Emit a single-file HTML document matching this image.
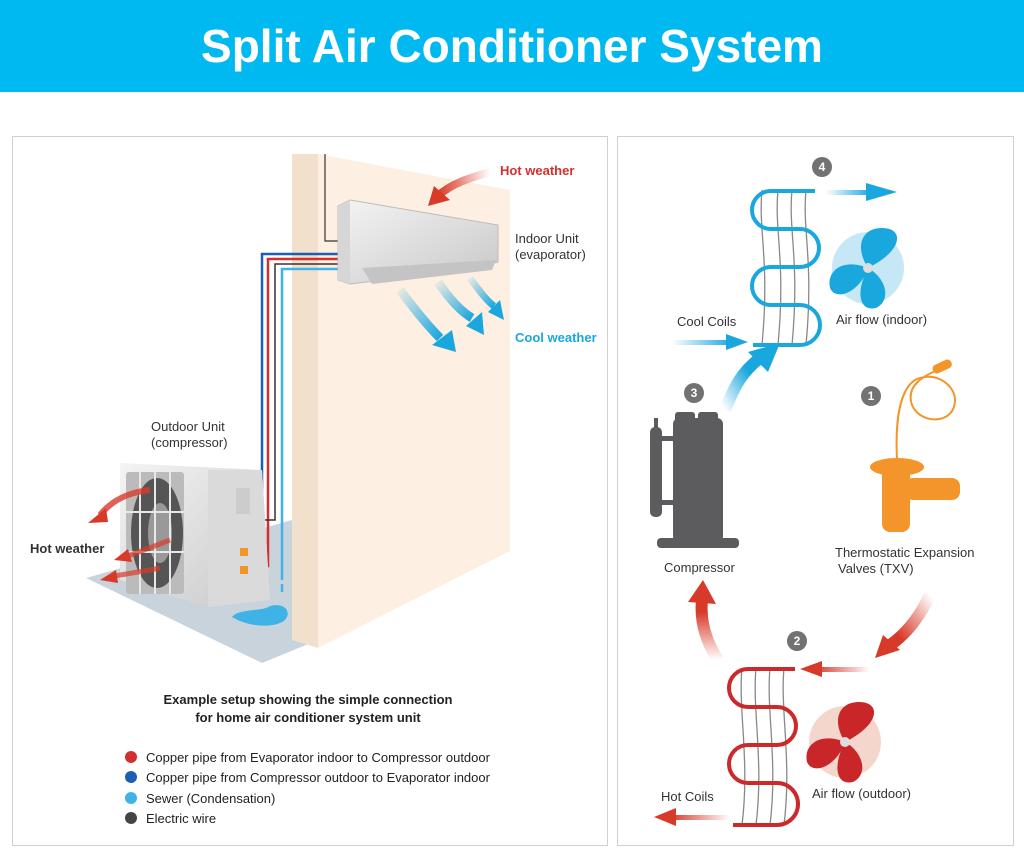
<!DOCTYPE html>
<html><head><meta charset="utf-8"><style>
html,body{margin:0;padding:0;background:#fff;}
body{width:1024px;height:859px;position:relative;overflow:hidden;font-family:"Liberation Sans",Arial,sans-serif;}
</style></head><body>
<svg width="1024" height="859" viewBox="0 0 1024 859" xmlns="http://www.w3.org/2000/svg" font-family="Liberation Sans, Arial, sans-serif">
<defs>
<linearGradient id="rg" x1="0" y1="0" x2="1" y2="0"><stop offset="0" stop-color="#d83a2a"/><stop offset="1" stop-color="#d83a2a" stop-opacity="0"/></linearGradient>
<linearGradient id="rgL" x1="1" y1="0" x2="0" y2="0"><stop offset="0" stop-color="#d83a2a" stop-opacity="0"/><stop offset="1" stop-color="#d83a2a"/></linearGradient>
<linearGradient id="bg" x1="0" y1="0" x2="1" y2="0"><stop offset="0" stop-color="#1aa7de" stop-opacity="0"/><stop offset="1" stop-color="#1aa7de"/></linearGradient>
<linearGradient id="bgV" x1="0" y1="1" x2="1" y2="0"><stop offset="0" stop-color="#1aa7de" stop-opacity="0"/><stop offset="0.7" stop-color="#1aa7de"/></linearGradient>
<linearGradient id="rgV" x1="0" y1="1" x2="0" y2="0"><stop offset="0" stop-color="#d83a2a" stop-opacity="0"/><stop offset="0.8" stop-color="#d83a2a"/></linearGradient>
<linearGradient id="rgD" x1="1" y1="0" x2="0" y2="1"><stop offset="0" stop-color="#d83a2a" stop-opacity="0"/><stop offset="0.8" stop-color="#d83a2a"/></linearGradient>
<linearGradient id="unit" x1="0" y1="0" x2="1" y2="1"><stop offset="0" stop-color="#f4f4f4"/><stop offset="1" stop-color="#c8c8c8"/></linearGradient>
<linearGradient id="cw" x1="0" y1="0" x2="1" y2="1"><stop offset="0" stop-color="#1aa7de" stop-opacity="0.1"/><stop offset="1" stop-color="#1aa7de"/></linearGradient>
</defs>
<rect x="0" y="0" width="1024" height="92" fill="#00b9f0"/>
<text x="512" y="62" text-anchor="middle" font-size="46" font-weight="bold" fill="#fff">Split Air Conditioner System</text>

<rect x="12.5" y="136.5" width="595" height="709" fill="#fff" stroke="#d0d0d0"/>
<rect x="617.5" y="136.5" width="396" height="709" fill="#fff" stroke="#d0d0d0"/>

<polygon points="86,578 292,520 318,640 262,663" fill="#c9d3dc"/>
<polygon points="292,154 318,154 318,648 292,640" fill="#f1e0cc"/>
<polygon points="318,154 510,190 510,551 318,648" fill="#fdf0e2"/>
<path d="M325,154 V241 H338" stroke="#333" fill="none" stroke-width="1.2"/>
<path d="M232,617 C240,608 262,612 270,606 C285,602 292,612 285,620 C276,628 250,628 232,617Z" fill="#3fb3e6"/>
<path d="M338,254 H262 V545 H250" stroke="#1b5fb3" stroke-width="2.5" fill="none"/>
<path d="M338,259 H268 V566 H250" stroke="#d32f2f" stroke-width="2.5" fill="none"/>
<path d="M338,264 H275 V520 H245" stroke="#333" stroke-width="1.5" fill="none"/>
<path d="M338,269 H282 V580" stroke="#3fb3e6" stroke-width="2.5" fill="none"/>
<line x1="282" y1="584" x2="282" y2="592" stroke="#3fb3e6" stroke-width="2.5"/>
<polygon points="120,463 262,470 270,600 208,607 120,580" fill="url(#unit)"/>
<polygon points="208,470 262,470 270,600 208,607" fill="#dadada"/>
<rect x="126" y="472" width="58" height="122" fill="#bbb" rx="3"/>
<ellipse cx="157" cy="533" rx="26" ry="55" fill="#555"/>
<ellipse cx="160" cy="533" rx="12" ry="30" fill="#999"/>
<g stroke="#e8e8e8" stroke-width="2"><line x1="140" y1="472" x2="140" y2="594"/><line x1="155" y1="472" x2="155" y2="594"/><line x1="170" y1="472" x2="170" y2="594"/><line x1="126" y1="512" x2="184" y2="512"/><line x1="126" y1="552" x2="184" y2="552"/></g>
<rect x="236" y="488" width="14" height="26" fill="#ccc"/>
<rect x="240" y="548" width="8" height="8" fill="#f3952a"/><rect x="240" y="566" width="8" height="8" fill="#f3952a"/>
<path d="M150,490 C130,492 112,500 100,515" stroke="#d83a2a" stroke-width="6" fill="none" opacity="0.8"/>
<polygon points="88,523 106,508 108,522" fill="#d83a2a"/>
<path d="M170,540 C150,548 138,552 128,556" stroke="#d83a2a" stroke-width="5" fill="none" opacity="0.7"/>
<polygon points="114,560 128,549 132,562" fill="#d83a2a"/>
<path d="M160,568 C140,572 125,574 115,576" stroke="#d83a2a" stroke-width="5" fill="none" opacity="0.7"/>
<polygon points="100,580 116,570 118,583" fill="#d83a2a"/>
<polygon points="338,206 350,200 498,225 498,262 470,270 350,284 338,280" fill="url(#unit)" stroke="#bbb"/>
<polygon points="338,206 350,200 350,284 338,280" fill="#d6d6d6"/>
<polygon points="362,268 496,260 492,270 372,284" fill="#c4c4c4"/>
<path d="M490,172 C470,178 452,183 438,196" stroke="url(#rgL)" stroke-width="8" fill="none"/>
<polygon points="428,206 434,186 450,200" fill="#d83a2a"/>
<text x="500" y="175" font-size="13" font-weight="bold" fill="#d32f2f">Hot weather</text>
<path d="M400,290 C415,310 430,328 440,338" stroke="url(#cw)" stroke-width="9" fill="none"/>
<polygon points="432,345 452,330 456,352" fill="#1aa7de"/>
<path d="M438,282 C450,300 462,312 472,318" stroke="url(#cw)" stroke-width="9" fill="none"/>
<polygon points="466,326 482,312 484,335" fill="#1aa7de"/>
<path d="M470,278 C480,292 488,302 494,306" stroke="url(#cw)" stroke-width="7" fill="none"/>
<polygon points="488,312 500,300 504,320" fill="#1aa7de"/>
<g font-size="13" fill="#333">
<text x="515" y="243">Indoor Unit</text><text x="515" y="259">(evaporator)</text>
<text x="151" y="431">Outdoor Unit</text><text x="151" y="447">(compressor)</text>
</g>
<text x="515" y="342" font-size="13" font-weight="bold" fill="#1aa7de">Cool weather</text>
<text x="30" y="553" font-size="13" font-weight="bold" fill="#333">Hot weather</text>
<g font-size="13" font-weight="bold" fill="#222" text-anchor="middle">
<text x="308" y="704">Example setup showing the simple connection</text>
<text x="308" y="722">for home air conditioner system unit</text>
</g>
<circle cx="131" cy="757" r="6" fill="#d32f2f"/><circle cx="131" cy="777" r="6" fill="#1b5fb3"/><circle cx="131" cy="798" r="6" fill="#3fb3e6"/><circle cx="131" cy="818" r="6" fill="#444"/>
<g font-size="13" fill="#222">
<text x="146" y="762">Copper pipe from Evaporator indoor to Compressor outdoor</text>
<text x="146" y="782">Copper pipe from Compressor outdoor to Evaporator indoor</text>
<text x="146" y="803">Sewer (Condensation)</text>
<text x="146" y="823">Electric wire</text>
</g>

<g fill="none" stroke="#888" stroke-width="1.3">
<path d="M762,190 C758,230 770,260 762,345 M778,190 C774,230 786,260 778,345 M792,190 C788,230 800,260 792,345 M806,190 C802,230 814,260 806,345"/>
</g>
<path d="M815,191 H771 A19,19 0 0 0 771,229 H800 A19,19 0 0 1 800,267 H771 A19,19 0 0 0 771,305 H800 A20,20 0 0 1 800,345 H753" stroke="#1aa7de" stroke-width="4" fill="none"/>
<rect x="826" y="190" width="45" height="5" fill="url(#bg)"/><polygon points="866,183 897,192 866,201" fill="#1aa7de"/>
<rect x="672" y="340" width="60" height="5" fill="url(#bg)"/><polygon points="726,334 748,342 726,350" fill="#1aa7de"/>
<path d="M725,410 C735,385 742,372 760,358" stroke="url(#bgV)" stroke-width="12" fill="none"/>
<polygon points="748,352 780,343 768,372" fill="#1aa7de"/>
<g transform="translate(868,268)">
<circle r="36" fill="#c6e8f6"/>
<path d="M0,0 C-14,-22 -6,-40 14,-40 C36,-40 36,-18 0,0Z" fill="#1aa7de"/>
<path d="M0,0 C-24,-10 -42,2 -38,20 C-32,34 -8,24 0,0Z" fill="#1aa7de"/>
<path d="M0,0 C18,10 24,32 8,40 C-10,44 -12,22 0,0Z" fill="#1aa7de"/>
<circle r="5" fill="#ddd"/>
</g>
<g fill="#5c5c5e">
<rect x="673" y="418" width="50" height="124" rx="6"/>
<rect x="675" y="412" width="20" height="12" rx="3"/><rect x="698" y="412" width="20" height="12" rx="3"/>
<rect x="650" y="427" width="12" height="90" rx="5"/><rect x="654" y="418" width="4" height="14"/>
<rect x="660" y="436" width="14" height="5"/><rect x="660" y="500" width="14" height="5"/>
<rect x="657" y="538" width="82" height="10" rx="4"/>
</g>
<g fill="#f3952a">
<ellipse cx="897" cy="467" rx="27" ry="9"/>
<rect x="882" y="467" width="28" height="65" rx="8"/>
<rect x="905" y="478" width="55" height="22" rx="8"/>
</g>
<path d="M897,460 C895,420 900,390 915,380 C935,370 955,385 955,400 C955,425 920,425 912,405 C905,385 925,375 942,368" stroke="#f3952a" stroke-width="2" fill="none"/>
<rect x="932" y="362" width="20" height="9" rx="4" fill="#f3952a" transform="rotate(-25 942 366)"/>
<path d="M930,595 C918,620 905,635 890,645" stroke="url(#rgD)" stroke-width="12" fill="none"/>
<polygon points="875,658 883,635 900,650" fill="#d83a2a"/>
<g fill="none" stroke="#888" stroke-width="1.3">
<path d="M742,668 C738,710 750,760 742,825 M756,668 C752,710 764,760 756,825 M770,668 C766,710 778,760 770,825 M784,668 C780,710 792,760 784,825"/>
</g>
<path d="M795,669 H748 A19,19 0 0 0 748,707 H777 A19,19 0 0 1 777,745 H748 A19,19 0 0 0 748,783 H777 A21,21 0 0 1 777,825 H733" stroke="#cc2a2a" stroke-width="4" fill="none"/>
<rect x="815" y="667" width="55" height="5" fill="url(#rg)"/><polygon points="822,661 800,669 822,677" fill="#d83a2a"/>
<rect x="670" y="815" width="60" height="5" fill="url(#rg)"/><polygon points="676,808 654,817 676,826" fill="#d83a2a"/>
<path d="M718,660 C705,640 700,620 702,600" stroke="url(#rgV)" stroke-width="12" fill="none"/>
<polygon points="688,602 703,580 716,604" fill="#d83a2a"/>
<g transform="translate(845,742)">
<circle r="36" fill="#f5d6cc"/>
<path d="M0,0 C-14,-22 -6,-40 14,-40 C36,-40 36,-18 0,0Z" fill="#c9262a"/>
<path d="M0,0 C-24,-10 -42,2 -38,20 C-32,34 -8,24 0,0Z" fill="#c9262a"/>
<path d="M0,0 C18,10 24,32 8,40 C-10,44 -12,22 0,0Z" fill="#c9262a"/>
<circle r="5" fill="#ddd"/>
</g>
<g fill="#727272"><circle cx="822" cy="167" r="10"/><circle cx="694" cy="393" r="10"/><circle cx="871" cy="396" r="10"/><circle cx="797" cy="641" r="10"/></g>
<g fill="#fff" font-size="12" font-weight="bold" text-anchor="middle"><text x="822" y="171">4</text><text x="694" y="397">3</text><text x="871" y="400">1</text><text x="797" y="645">2</text></g>
<g font-size="13" fill="#333">
<text x="677" y="326">Cool Coils</text>
<text x="836" y="324">Air flow (indoor)</text>
<text x="664" y="572">Compressor</text>
<text x="835" y="557">Thermostatic Expansion</text>
<text x="838" y="573">Valves (TXV)</text>
<text x="661" y="801">Hot Coils</text>
<text x="812" y="798">Air flow (outdoor)</text>
</g>
</svg>
</body></html>
